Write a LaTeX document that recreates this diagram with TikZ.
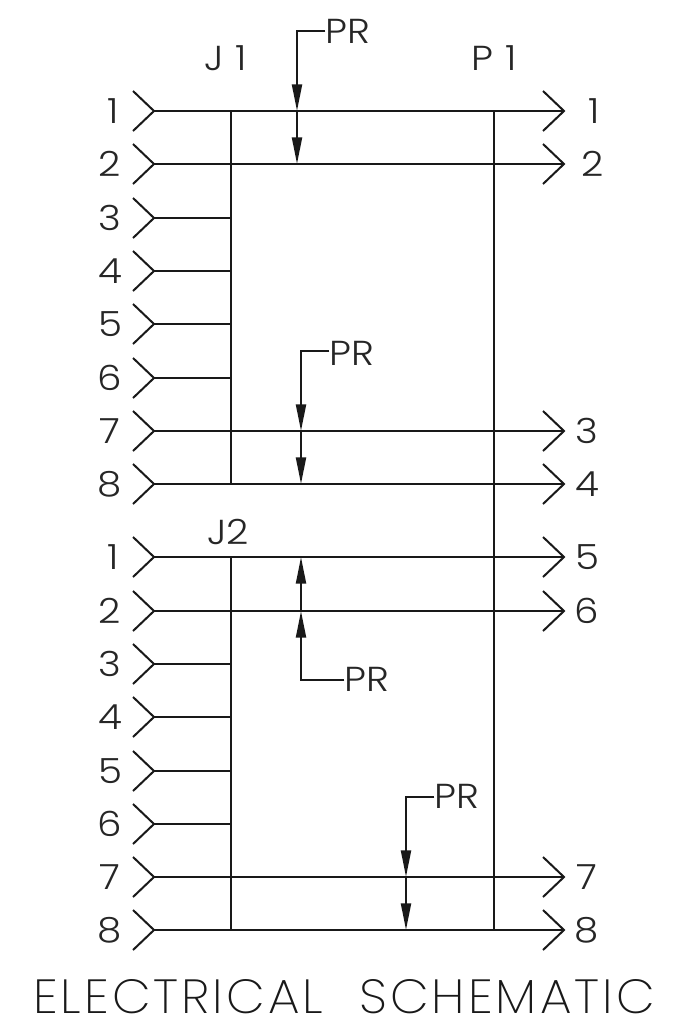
\documentclass[tikz,border=0pt]{standalone}
\usepackage{fontspec}
\usetikzlibrary{arrows.meta}
\setmainfont{Poppins}[UprightFont=* Light]
\newfontfamily\thinface{Poppins}[UprightFont=* ExtraLight,LetterSpace=6]
\newcommand{\wlab}[1]{\scalebox{1.12}[1]{#1}}
\tikzset{
  wire/.style={line width=1.5pt,black!90,line join=miter},
  lead/.style={line width=1.5pt,black!90,-{Triangle[length=20pt,width=7.5pt]}},
  lab/.style={inner sep=0pt,text=black!85,font=\fontsize{26}{28}\selectfont},
  ttl/.style={inner sep=0pt,text=black!90,font=\thinface\fontsize{33}{36}\selectfont}
}
\begin{document}
\begin{tikzpicture}[x=0.75pt,y=-0.75pt]
\useasboundingbox (0,0) rectangle (676,1018);
% row coordinates
\foreach \n/\y in {1/111,2/164,3/218,4/271,5/324,6/378,7/431,8/484,9/557,10/611,11/664,12/717,13/771,14/824,15/877,16/930}{
  \coordinate (L\n) at (154,\y);
  \coordinate (J\n) at (231,\y);
  \coordinate (P\n) at (494,\y);
  \coordinate (R\n) at (564,\y);
  \draw[wire] (133,\y-20) -- (L\n) -- (133,\y+20);
  \draw[wire] (L\n) -- (J\n);
}
% through wires with right chevrons
\foreach \n in {1,2,7,8,9,10,15,16}{
  \draw[wire] (J\n) -- (P\n) -- (R\n);
  \draw[wire] ([shift={(-21,-20)}]R\n) -- (R\n) -- ([shift={(-21,20)}]R\n);
}
% buses
\draw[wire] (J1) -- (J8);
\draw[wire] (J9) -- (J16);
\draw[wire] (P1) -- (P16);
% left numbers
\foreach \n/\t/\x in {1/1/113,2/2/110,3/3/110,4/4/110,5/5/110,6/6/110,7/7/110,8/8/110,9/1/113,10/2/110,11/3/110,12/4/110,13/5/110,14/6/110,15/7/110,16/8/110}{
  \path (\x,0) coordinate (tmp) (tmp |- L\n) node[lab] (nl\n) {\wlab{\t}};
}
% right numbers
\foreach \n/\t/\x in {1/1/594,2/2/593,7/3/587,8/4/587,9/5/587,10/6/587,15/7/587,16/8/587}{
  \path (\x,0) coordinate (tmp) (tmp |- L\n) node[lab] (nr\n) {\wlab{\t}};
}
% connector names
\node[lab] (j1) at (226,58) {\wlab{J\hspace{8pt}1}};
\node[lab] (p1) at (494,58) {\wlab{P\hspace{8pt}1}};
\node[lab] (j2) at (228,532) {\wlab{J2}};
\node[lab] (pr1) at (348,31) {\wlab{PR}};
\node[lab] (pr2) at (352,353) {\wlab{PR}};
\node[lab] (pr3) at (367,679) {\wlab{PR}};
\node[lab] (pr4) at (457,796) {\wlab{PR}};
% PR leaders
\coordinate (a1) at (297,111); \coordinate (b1) at (297,164);
\coordinate (a2) at (301,431); \coordinate (b2) at (301,484);
\coordinate (a3) at (301,611); \coordinate (b3) at (301,557);
\coordinate (a4) at (406,877); \coordinate (b4) at (406,930);
\coordinate (c1) at (297,31); \coordinate (c2) at (301,351);
\coordinate (c3) at (301,680); \coordinate (c4) at (406,797);
\draw[lead] (pr1.west |- c1) -- (c1) -- (a1);
\draw[lead] (a1) -- (b1);
\draw[lead] (pr2.west |- c2) -- (c2) -- (a2);
\draw[lead] (a2) -- (b2);
\draw[lead] (pr3.west |- c3) -- (c3) -- (a3);
\draw[lead] (a3) -- (b3);
\draw[lead] (pr4.west |- c4) -- (c4) -- (a4);
\draw[lead] (a4) -- (b4);
\node[ttl] (title) at (344,996.5) {\resizebox{466pt}{25.5pt}{ELECTRICAL\hspace{24pt}SCHEMATIC}};
\end{tikzpicture}
\end{document}
